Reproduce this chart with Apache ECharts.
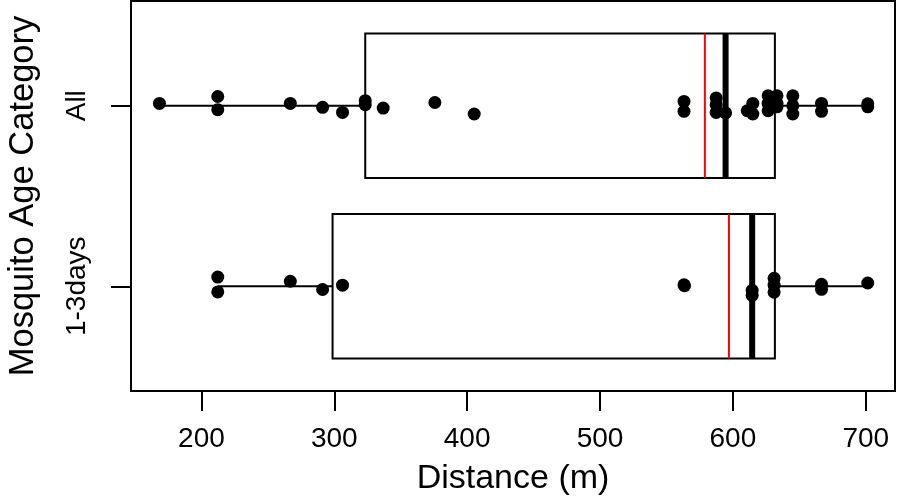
<!DOCTYPE html>
<html>
<head>
<meta charset="utf-8">
<script src="https://cdn.jsdelivr.net/npm/echarts@6/dist/echarts.min.js"></script>
<style>
  html, body { margin: 0; padding: 0; background: #fff; }
  #chart { width: 898px; height: 503px; }
</style>
</head>
<body>
<div id="chart"></div>
<script>
// categories, bottom to top (y = 1, 2)
const categories = ['1-3days', 'All'];
const xTicks = [200, 300, 400, 500, 600, 700];

// box stats per category: [low whisker, Q1, median, Q3, high whisker]
const boxStats = [
  [212.3, 298.7, 614.5, 631.6, 701.5],
  [168.4, 323.3, 594.5, 631.6, 701.5]
];
const means = [597, 578.9];

// raw points: distance and jitter offset (in category units)
const pts13Dist = [212.3, 212.3, 266.9, 291.2, 306.2, 563.2, 563.6, 614.5, 614.5,
  631, 631, 631, 666.7, 666.7, 701.5];
const pts13Jit = [0.051, -0.031, 0.028, -0.018, 0.006, 0.008, 0.003, -0.022, -0.05,
  0.044, 0.006, -0.033, 0.011, -0.017, 0.018];

const ptsAllDist = [168.4, 212.3, 212.3, 266.9, 291.2, 306.2, 323.3, 323.3, 336.8,
  375.7, 405.3, 563.2, 563.2, 587.4, 587.4, 587.4, 594.5, 610.8, 615, 615,
  626.5, 626.5, 626.5, 633.2, 633.2, 633.2, 645.1, 645.1, 645.1, 666.7, 666.7,
  701.5, 701.5];
const ptsAllJit = [0.013, 0.051, -0.022, 0.013, -0.009, -0.037, 0.028, 0.006, -0.013,
  0.018, -0.046, 0.024, -0.031, 0.043, 0.006, -0.037, -0.04, -0.028, 0.013, -0.046,
  0.055, 0.013, -0.028, 0.055, 0.013, -0.006, 0.055, 0, -0.046, 0.013, -0.031,
  0.011, -0.006];

const font = 'Liberation Sans, Arial, sans-serif';
const halfBox = 0.4;

const boxData = boxStats.map((s, i) => [i + 1].concat(s, [means[i]]));
const pointData = pts13Dist.map((d, i) => [d, 1 + pts13Jit[i]])
  .concat(ptsAllDist.map((d, i) => [d, 2 + ptsAllJit[i]]));

const chart = echarts.init(document.getElementById('chart'));

chart.setOption({
  animation: false,
  grid: {
    left: 131, right: 3, top: 1, bottom: 112,
    outerBoundsMode: 'none',
    containLabel: false,
    show: true, borderColor: '#000', borderWidth: 2, backgroundColor: 'transparent'
  },
  xAxis: {
    type: 'value',
    min: 147,
    max: 722,
    name: 'Distance (m)',
    nameLocation: 'middle',
    nameGap: 71,
    nameTextStyle: { fontFamily: font, fontSize: 34, color: '#000' },
    axisLine: { show: false },
    splitLine: { show: false },
    axisTick: { show: true, length: 20, customValues: xTicks, lineStyle: { color: '#000', width: 2 } },
    axisLabel: { customValues: xTicks, margin: 34, fontFamily: font, fontSize: 28, color: '#000' }
  },
  yAxis: {
    type: 'value',
    min: 0.42,
    max: 2.58,
    name: 'Mosquito Age Category',
    nameLocation: 'middle',
    nameRotate: 90,
    nameGap: 90,
    nameTextStyle: { fontFamily: font, fontSize: 34.5, color: '#000' },
    axisLine: { show: false },
    splitLine: { show: false },
    axisTick: { show: true, length: 20, customValues: [1, 2], lineStyle: { color: '#000', width: 2 } },
    axisLabel: {
      customValues: [1, 2],
      rotate: 90,
      margin: 40,
      fontFamily: font, fontSize: 28, color: '#000',
      formatter: v => categories[Math.round(v) - 1]
    }
  },
  series: [
    {
      type: 'custom',
      data: boxData,
      encode: { x: [2, 4], y: 0 },
      renderItem: (params, api) => {
        const y = api.value(0);
        const lo = api.value(1), q1 = api.value(2), med = api.value(3);
        const q3 = api.value(4), hi = api.value(5), mean = api.value(6);
        const pTop = api.coord([q1, y + halfBox]);
        const pBot = api.coord([q3, y - halfBox]);
        const pc = (v) => api.coord([v, y]);
        const vLine = (v, color, w) => {
          const a = api.coord([v, y + halfBox]);
          const b = api.coord([v, y - halfBox]);
          return { type: 'line', shape: { x1: a[0], y1: a[1], x2: b[0], y2: b[1] },
            style: { stroke: color, lineWidth: w } };
        };
        return {
          type: 'group',
          children: [
            { type: 'line', shape: { x1: pc(lo)[0], y1: pc(lo)[1], x2: pc(q1)[0], y2: pc(q1)[1] },
              style: { stroke: '#000', lineWidth: 2 } },
            { type: 'line', shape: { x1: pc(q3)[0], y1: pc(q3)[1], x2: pc(hi)[0], y2: pc(hi)[1] },
              style: { stroke: '#000', lineWidth: 2 } },
            { type: 'rect',
              shape: { x: pTop[0], y: pTop[1], width: pBot[0] - pTop[0], height: pBot[1] - pTop[1] },
              style: { fill: '#fff', stroke: '#000', lineWidth: 2 } },
            vLine(med, '#000', 6),
            vLine(mean, '#ff0000', 2)
          ]
        };
      },
      z: 2
    },
    {
      type: 'scatter',
      data: pointData,
      symbol: 'circle',
      symbolSize: 13,
      itemStyle: { color: '#000', opacity: 1 },
      z: 3
    }
  ]
});
</script>
</body>
</html>
